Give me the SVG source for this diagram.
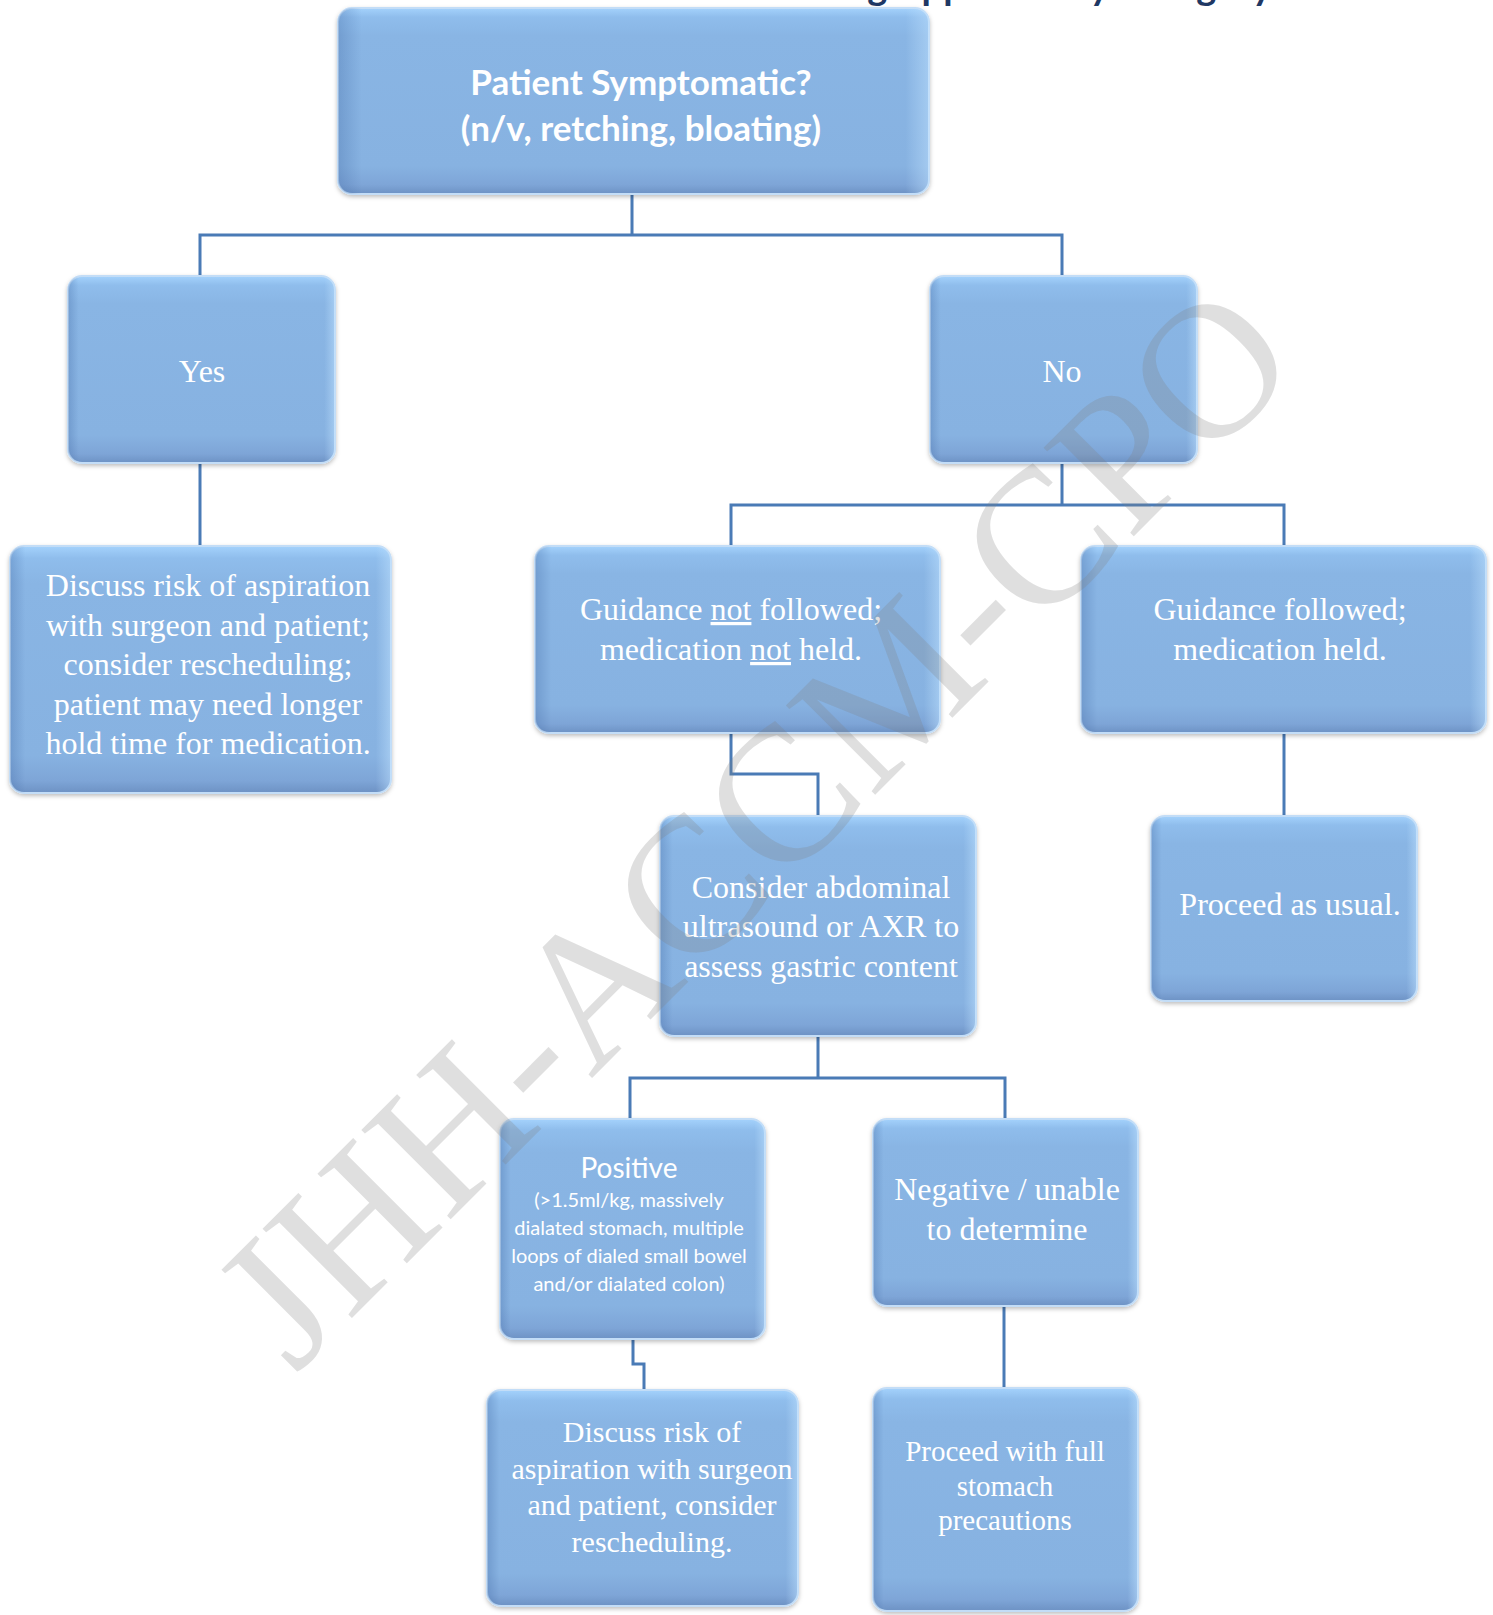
<svg xmlns="http://www.w3.org/2000/svg" width="1493" height="1615" viewBox="0 0 1493 1615">
<style>
.box{stroke:#c3ddf7;stroke-width:2;filter:url(#sh)}
.bv{fill:url(#gV)}
.bh{fill:url(#gH)}
.t{font-family:"Liberation Serif","Times New Roman",serif;font-size:32px;fill:#ffffff;text-anchor:middle}
.s{font-family:Lato,"Liberation Sans",sans-serif;fill:#ffffff;text-anchor:middle}
.b{font-weight:bold;font-size:35px}
.p{font-size:20px}
.c{fill:none;stroke:#4a7bb6;stroke-width:3}
.wm{font-family:"Liberation Serif","Times New Roman",serif;font-size:193px;fill:#808080;fill-opacity:0.25}
</style>
<defs>
<linearGradient id="gV" x1="0" y1="0" x2="0" y2="1">
<stop offset="0" stop-color="#a4d2fc"/>
<stop offset="0.05" stop-color="#8fbdec"/>
<stop offset="0.15" stop-color="#89b5e4"/>
<stop offset="0.85" stop-color="#87b2e1"/>
<stop offset="0.95" stop-color="#7ea5d7"/>
<stop offset="1" stop-color="#6d92c4"/>
</linearGradient>
<linearGradient id="gH" x1="0" y1="0" x2="1" y2="0">
<stop offset="0" stop-color="#3c64a0" stop-opacity="0.3"/>
<stop offset="0.04" stop-color="#3c64a0" stop-opacity="0"/>
<stop offset="0.96" stop-color="#c0e2ff" stop-opacity="0"/>
<stop offset="1" stop-color="#c0e2ff" stop-opacity="0.5"/>
</linearGradient>
<filter id="sh" x="-5%" y="-5%" width="110%" height="115%">
<feDropShadow dx="0" dy="2" stdDeviation="2" flood-color="#000" flood-opacity="0.25"/>
</filter>
</defs>
<rect width="1493" height="1615" fill="#ffffff"/>
<text x="1272" y="0" style="font-family:Lato,'Liberation Sans',sans-serif;font-weight:bold;font-size:38px;fill:#1f3864;text-anchor:end">Making Approach by Category</text>

<g id="connectors">
<path class="c" d="M632 194 V235 M200 276 V235 H1062 V276"/>
<path class="c" d="M200 463 V546"/>
<path class="c" d="M1062 463 V505 M731 546 V505 H1284 V546"/>
<path class="c" d="M731 733 V774 H818 V816"/>
<path class="c" d="M1284 733 V816"/>
<path class="c" d="M818 1036 V1078 M630 1119 V1078 H1005 V1119"/>
<path class="c" d="M633 1339 V1364 H644 V1390"/>
<path class="c" d="M1004 1306 V1388"/>
</g>

<g id="n-symptomatic">
<rect class="box bv" x="338" y="8" width="591" height="186" rx="14"/>
<rect class="bh" x="338" y="8" width="591" height="186" rx="14"/>
<text class="s b" x="641" y="95">Patient Symptomatic?</text>
<text class="s b" x="641" y="141">(n/v, retching, bloating)</text>
</g>

<g id="n-yes">
<rect class="box bv" x="68" y="276" width="267" height="187" rx="14"/>
<rect class="bh" x="68" y="276" width="267" height="187" rx="14"/>
<text class="t" x="202" y="382">Yes</text>
</g>

<g id="n-no">
<rect class="box bv" x="930" y="276" width="267" height="187" rx="14"/>
<rect class="bh" x="930" y="276" width="267" height="187" rx="14"/>
<text class="t" x="1062" y="382">No</text>
</g>

<g id="n-discuss-yes">
<rect class="box bv" x="10" y="546" width="381" height="247" rx="14"/>
<rect class="bh" x="10" y="546" width="381" height="247" rx="14"/>
<text class="t" x="208" y="596">Discuss risk of aspiration</text>
<text class="t" x="208" y="635.5">with surgeon and patient;</text>
<text class="t" x="208" y="675">consider rescheduling;</text>
<text class="t" x="208" y="714.5">patient may need longer</text>
<text class="t" x="208" y="754">hold time for medication.</text>
</g>

<g id="n-not-followed">
<rect class="box bv" x="535" y="546" width="405" height="187" rx="14"/>
<rect class="bh" x="535" y="546" width="405" height="187" rx="14"/>
<text class="t" x="731" y="620">Guidance <tspan text-decoration="underline">not</tspan> followed;</text>
<text class="t" x="731" y="660">medication <tspan text-decoration="underline">not</tspan> held.</text>
</g>

<g id="n-followed">
<rect class="box bv" x="1081" y="546" width="405" height="187" rx="14"/>
<rect class="bh" x="1081" y="546" width="405" height="187" rx="14"/>
<text class="t" x="1280" y="620">Guidance followed;</text>
<text class="t" x="1280" y="660">medication held.</text>
</g>

<g id="n-consider">
<rect class="box bv" x="660" y="816" width="316" height="220" rx="14"/>
<rect class="bh" x="660" y="816" width="316" height="220" rx="14"/>
<text class="t" x="821" y="898">Consider abdominal</text>
<text class="t" x="821" y="937">ultrasound or AXR to</text>
<text class="t" x="821" y="977">assess gastric content</text>
</g>

<g id="n-proceed-usual">
<rect class="box bv" x="1151" y="816" width="266" height="185" rx="14"/>
<rect class="bh" x="1151" y="816" width="266" height="185" rx="14"/>
<text class="t" x="1290" y="915">Proceed as usual.</text>
</g>

<g id="n-positive">
<rect class="box bv" x="500" y="1119" width="265" height="220" rx="14"/>
<rect class="bh" x="500" y="1119" width="265" height="220" rx="14"/>
<text class="s" x="629" y="1178" style="font-size:28px">Positive</text>
<text class="s p" x="629" y="1207">(&gt;1.5ml/kg, massively</text>
<text class="s p" x="629" y="1235">dialated stomach, multiple</text>
<text class="s p" x="629" y="1263">loops of dialed small bowel</text>
<text class="s p" x="629" y="1291">and/or dialated colon)</text>
</g>

<g id="n-negative">
<rect class="box bv" x="873" y="1119" width="265" height="187" rx="14"/>
<rect class="bh" x="873" y="1119" width="265" height="187" rx="14"/>
<text class="t" x="1007" y="1200">Negative / unable</text>
<text class="t" x="1007" y="1240">to determine</text>
</g>

<g id="n-discuss-positive">
<rect class="box bv" x="487" y="1390" width="311" height="216" rx="14"/>
<rect class="bh" x="487" y="1390" width="311" height="216" rx="14"/>
<text class="t" x="652" y="1442" style="font-size:30px">Discuss risk of</text>
<text class="t" x="652" y="1479" style="font-size:30px">aspiration with surgeon</text>
<text class="t" x="652" y="1515" style="font-size:30px">and patient, consider</text>
<text class="t" x="652" y="1552" style="font-size:30px">rescheduling.</text>
</g>

<g id="n-proceed-full">
<rect class="box bv" x="873" y="1388" width="265" height="223" rx="14"/>
<rect class="bh" x="873" y="1388" width="265" height="223" rx="14"/>
<text class="t" x="1005" y="1461" style="font-size:29px">Proceed with full</text>
<text class="t" x="1005" y="1496" style="font-size:29px">stomach</text>
<text class="t" x="1005" y="1530" style="font-size:29px">precautions</text>
</g>

<text class="wm" x="295" y="1375" transform="rotate(-45 295 1375)">JHH-ACCM-CPO</text>
</svg>
